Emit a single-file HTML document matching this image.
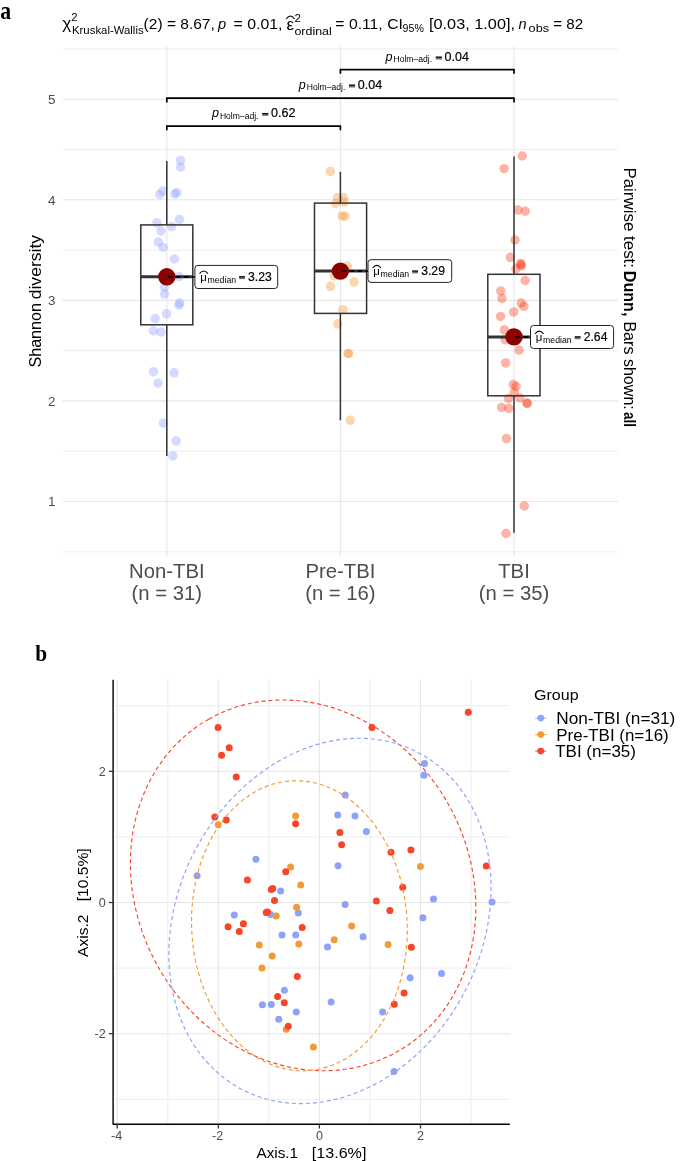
<!DOCTYPE html>
<html><head><meta charset="utf-8"><style>
html,body{margin:0;padding:0;background:#fff;}
svg{display:block;font-family:"Liberation Sans", sans-serif;will-change:transform;}
</style></head><body>
<svg width="685" height="1161" viewBox="0 0 685 1161">
<rect width="685" height="1161" fill="#fff"/>
<line x1="62.6" x2="618.1" y1="551.8" y2="551.8" stroke="#ECECEC" stroke-width="0.9"/>
<line x1="62.6" x2="618.1" y1="451.2" y2="451.2" stroke="#ECECEC" stroke-width="0.9"/>
<line x1="62.6" x2="618.1" y1="350.6" y2="350.6" stroke="#ECECEC" stroke-width="0.9"/>
<line x1="62.6" x2="618.1" y1="250.1" y2="250.1" stroke="#ECECEC" stroke-width="0.9"/>
<line x1="62.6" x2="618.1" y1="149.5" y2="149.5" stroke="#ECECEC" stroke-width="0.9"/>
<line x1="62.6" x2="618.1" y1="48.9" y2="48.9" stroke="#ECECEC" stroke-width="0.9"/>
<line x1="62.6" x2="618.1" y1="501.5" y2="501.5" stroke="#E6E6E6" stroke-width="1.1"/>
<line x1="62.6" x2="618.1" y1="400.9" y2="400.9" stroke="#E6E6E6" stroke-width="1.1"/>
<line x1="62.6" x2="618.1" y1="300.4" y2="300.4" stroke="#E6E6E6" stroke-width="1.1"/>
<line x1="62.6" x2="618.1" y1="199.8" y2="199.8" stroke="#E6E6E6" stroke-width="1.1"/>
<line x1="62.6" x2="618.1" y1="99.2" y2="99.2" stroke="#E6E6E6" stroke-width="1.1"/>
<line x1="166.8" x2="166.8" y1="46.4" y2="556.2" stroke="#E6E6E6" stroke-width="1.1"/>
<line x1="340.4" x2="340.4" y1="46.4" y2="556.2" stroke="#E6E6E6" stroke-width="1.1"/>
<line x1="514.0" x2="514.0" y1="46.4" y2="556.2" stroke="#E6E6E6" stroke-width="1.1"/>
<text x="55.4" y="506.3" font-size="13.4" fill="#4D4D4D" text-anchor="end">1</text>
<text x="55.4" y="405.7" font-size="13.4" fill="#4D4D4D" text-anchor="end">2</text>
<text x="55.4" y="305.2" font-size="13.4" fill="#4D4D4D" text-anchor="end">3</text>
<text x="55.4" y="204.6" font-size="13.4" fill="#4D4D4D" text-anchor="end">4</text>
<text x="55.4" y="104.0" font-size="13.4" fill="#4D4D4D" text-anchor="end">5</text>
<circle cx="180.5" cy="160.3" r="4.75" fill="#94A5FF" fill-opacity="0.4"/>
<circle cx="180.5" cy="167.2" r="4.75" fill="#94A5FF" fill-opacity="0.4"/>
<circle cx="162.7" cy="191.1" r="4.75" fill="#94A5FF" fill-opacity="0.4"/>
<circle cx="159.7" cy="194.4" r="4.75" fill="#94A5FF" fill-opacity="0.4"/>
<circle cx="176.9" cy="192.5" r="4.75" fill="#94A5FF" fill-opacity="0.4"/>
<circle cx="174.8" cy="194.1" r="4.75" fill="#94A5FF" fill-opacity="0.4"/>
<circle cx="179.4" cy="219.4" r="4.75" fill="#94A5FF" fill-opacity="0.4"/>
<circle cx="156.9" cy="222.8" r="4.75" fill="#94A5FF" fill-opacity="0.4"/>
<circle cx="171.7" cy="226.6" r="4.75" fill="#94A5FF" fill-opacity="0.4"/>
<circle cx="161.0" cy="231.1" r="4.75" fill="#94A5FF" fill-opacity="0.4"/>
<circle cx="158.3" cy="242.1" r="4.75" fill="#94A5FF" fill-opacity="0.4"/>
<circle cx="163.1" cy="247.2" r="4.75" fill="#94A5FF" fill-opacity="0.4"/>
<circle cx="174.4" cy="259.0" r="4.75" fill="#94A5FF" fill-opacity="0.4"/>
<circle cx="179.2" cy="276.6" r="4.75" fill="#94A5FF" fill-opacity="0.4"/>
<circle cx="164.5" cy="287.2" r="4.75" fill="#94A5FF" fill-opacity="0.4"/>
<circle cx="164.5" cy="294.1" r="4.75" fill="#94A5FF" fill-opacity="0.4"/>
<circle cx="179.7" cy="303.0" r="4.75" fill="#94A5FF" fill-opacity="0.4"/>
<circle cx="179.0" cy="305.2" r="4.75" fill="#94A5FF" fill-opacity="0.4"/>
<circle cx="166.6" cy="313.8" r="4.75" fill="#94A5FF" fill-opacity="0.4"/>
<circle cx="155.1" cy="318.6" r="4.75" fill="#94A5FF" fill-opacity="0.4"/>
<circle cx="153.4" cy="331.0" r="4.75" fill="#94A5FF" fill-opacity="0.4"/>
<circle cx="161.0" cy="332.0" r="4.75" fill="#94A5FF" fill-opacity="0.4"/>
<circle cx="153.4" cy="371.7" r="4.75" fill="#94A5FF" fill-opacity="0.4"/>
<circle cx="174.1" cy="372.8" r="4.75" fill="#94A5FF" fill-opacity="0.4"/>
<circle cx="158.0" cy="383.2" r="4.75" fill="#94A5FF" fill-opacity="0.4"/>
<circle cx="163.5" cy="423.2" r="4.75" fill="#94A5FF" fill-opacity="0.4"/>
<circle cx="176.2" cy="441.1" r="4.75" fill="#94A5FF" fill-opacity="0.4"/>
<circle cx="172.8" cy="455.9" r="4.75" fill="#94A5FF" fill-opacity="0.4"/>
<circle cx="330.3" cy="171.4" r="4.75" fill="#F7983A" fill-opacity="0.4"/>
<circle cx="337.5" cy="197.6" r="4.75" fill="#F7983A" fill-opacity="0.4"/>
<circle cx="343.4" cy="197.6" r="4.75" fill="#F7983A" fill-opacity="0.4"/>
<circle cx="335.6" cy="203.5" r="4.75" fill="#F7983A" fill-opacity="0.4"/>
<circle cx="344.1" cy="202.1" r="4.75" fill="#F7983A" fill-opacity="0.4"/>
<circle cx="342.1" cy="215.9" r="4.75" fill="#F7983A" fill-opacity="0.4"/>
<circle cx="345.2" cy="216.2" r="4.75" fill="#F7983A" fill-opacity="0.4"/>
<circle cx="347.2" cy="266.1" r="4.75" fill="#F7983A" fill-opacity="0.4"/>
<circle cx="334.2" cy="275.8" r="4.75" fill="#F7983A" fill-opacity="0.4"/>
<circle cx="354.1" cy="282.1" r="4.75" fill="#F7983A" fill-opacity="0.4"/>
<circle cx="330.6" cy="286.3" r="4.75" fill="#F7983A" fill-opacity="0.4"/>
<circle cx="342.8" cy="309.7" r="4.75" fill="#F7983A" fill-opacity="0.4"/>
<circle cx="337.9" cy="323.8" r="4.75" fill="#F7983A" fill-opacity="0.4"/>
<circle cx="348.3" cy="353.4" r="4.75" fill="#F7983A" fill-opacity="0.4"/>
<circle cx="348.3" cy="353.4" r="4.75" fill="#F7983A" fill-opacity="0.4"/>
<circle cx="350.3" cy="420.3" r="4.75" fill="#F7983A" fill-opacity="0.4"/>
<circle cx="522.3" cy="156.0" r="4.75" fill="#FA4320" fill-opacity="0.4"/>
<circle cx="504.1" cy="168.7" r="4.75" fill="#FA4320" fill-opacity="0.4"/>
<circle cx="517.9" cy="210.1" r="4.75" fill="#FA4320" fill-opacity="0.4"/>
<circle cx="525.3" cy="211.2" r="4.75" fill="#FA4320" fill-opacity="0.4"/>
<circle cx="515.0" cy="239.9" r="4.75" fill="#FA4320" fill-opacity="0.4"/>
<circle cx="510.4" cy="257.3" r="4.75" fill="#FA4320" fill-opacity="0.4"/>
<circle cx="520.6" cy="263.4" r="4.75" fill="#FA4320" fill-opacity="0.4"/>
<circle cx="521.2" cy="266.0" r="4.75" fill="#FA4320" fill-opacity="0.4"/>
<circle cx="515.9" cy="269.0" r="4.75" fill="#FA4320" fill-opacity="0.4"/>
<circle cx="521.0" cy="264.6" r="4.75" fill="#FA4320" fill-opacity="0.4"/>
<circle cx="525.2" cy="280.5" r="4.75" fill="#FA4320" fill-opacity="0.4"/>
<circle cx="500.8" cy="290.9" r="4.75" fill="#FA4320" fill-opacity="0.4"/>
<circle cx="502.0" cy="298.5" r="4.75" fill="#FA4320" fill-opacity="0.4"/>
<circle cx="521.2" cy="303.0" r="4.75" fill="#FA4320" fill-opacity="0.4"/>
<circle cx="523.9" cy="306.3" r="4.75" fill="#FA4320" fill-opacity="0.4"/>
<circle cx="513.7" cy="311.9" r="4.75" fill="#FA4320" fill-opacity="0.4"/>
<circle cx="500.6" cy="316.4" r="4.75" fill="#FA4320" fill-opacity="0.4"/>
<circle cx="504.4" cy="329.9" r="4.75" fill="#FA4320" fill-opacity="0.4"/>
<circle cx="505.2" cy="339.7" r="4.75" fill="#FA4320" fill-opacity="0.4"/>
<circle cx="519.1" cy="350.2" r="4.75" fill="#FA4320" fill-opacity="0.4"/>
<circle cx="505.7" cy="362.9" r="4.75" fill="#FA4320" fill-opacity="0.4"/>
<circle cx="513.3" cy="384.6" r="4.75" fill="#FA4320" fill-opacity="0.4"/>
<circle cx="516.1" cy="386.4" r="4.75" fill="#FA4320" fill-opacity="0.4"/>
<circle cx="514.3" cy="392.6" r="4.75" fill="#FA4320" fill-opacity="0.4"/>
<circle cx="508.5" cy="398.4" r="4.75" fill="#FA4320" fill-opacity="0.4"/>
<circle cx="519.8" cy="397.8" r="4.75" fill="#FA4320" fill-opacity="0.4"/>
<circle cx="527.1" cy="402.9" r="4.75" fill="#FA4320" fill-opacity="0.4"/>
<circle cx="527.1" cy="403.5" r="4.75" fill="#FA4320" fill-opacity="0.4"/>
<circle cx="501.6" cy="407.5" r="4.75" fill="#FA4320" fill-opacity="0.4"/>
<circle cx="508.8" cy="408.4" r="4.75" fill="#FA4320" fill-opacity="0.4"/>
<circle cx="506.4" cy="438.6" r="4.75" fill="#FA4320" fill-opacity="0.4"/>
<circle cx="524.3" cy="506.0" r="4.75" fill="#FA4320" fill-opacity="0.4"/>
<circle cx="506.0" cy="533.4" r="4.75" fill="#FA4320" fill-opacity="0.4"/>
<line x1="166.8" x2="166.8" y1="161.0" y2="224.9" stroke="#333" stroke-width="1.5"/>
<line x1="166.8" x2="166.8" y1="324.8" y2="455.9" stroke="#333" stroke-width="1.5"/>
<rect x="140.8" y="224.9" width="52.0" height="99.9" fill="none" stroke="#333" stroke-width="1.5"/>
<line x1="140.8" x2="192.8" y1="276.8" y2="276.8" stroke="#333" stroke-width="3"/>
<line x1="340.4" x2="340.4" y1="171.8" y2="203.1" stroke="#333" stroke-width="1.5"/>
<line x1="340.4" x2="340.4" y1="313.4" y2="420.3" stroke="#333" stroke-width="1.5"/>
<rect x="314.5" y="203.1" width="52.10000000000002" height="110.29999999999998" fill="none" stroke="#333" stroke-width="1.5"/>
<line x1="314.5" x2="366.6" y1="271.1" y2="271.1" stroke="#333" stroke-width="3"/>
<line x1="514.0" x2="514.0" y1="156.4" y2="274.3" stroke="#333" stroke-width="1.5"/>
<line x1="514.0" x2="514.0" y1="395.8" y2="532.8" stroke="#333" stroke-width="1.5"/>
<rect x="487.8" y="274.3" width="52.19999999999999" height="121.5" fill="none" stroke="#333" stroke-width="1.5"/>
<line x1="487.8" x2="540.0" y1="336.9" y2="336.9" stroke="#333" stroke-width="3"/>
<circle cx="166.8" cy="276.8" r="8.7" fill="#8B0000"/>
<line x1="168.1" x2="194.9" y1="276.8" y2="276.8" stroke="#000" stroke-width="1.7" stroke-dasharray="4.5 3.5"/>
<circle cx="340.4" cy="271.1" r="8.7" fill="#8B0000"/>
<line x1="341.7" x2="368.0" y1="271.1" y2="271.1" stroke="#000" stroke-width="1.7" stroke-dasharray="4.5 3.5"/>
<circle cx="514.0" cy="336.9" r="8.7" fill="#8B0000"/>
<line x1="515.3" x2="530.5" y1="336.9" y2="336.9" stroke="#000" stroke-width="1.7" stroke-dasharray="4.5 3.5"/>
<rect x="194.9" y="265.4" width="82.8" height="23.1" rx="3" fill="#fff" stroke="#222" stroke-width="1"/>
<text x="200.2" y="280.7" font-size="11.6" fill="#000" textLength="6.6" lengthAdjust="spacingAndGlyphs">μ</text>
<path d="M199.5,273.7 Q203.7,268.4 207.9,273.7" fill="none" stroke="#000" stroke-width="1.1"/>
<text x="207.5" y="282.8" font-size="8.5" fill="#000" textLength="28.6" lengthAdjust="spacingAndGlyphs">median</text>
<rect x="239.1" y="276.2" width="5.8" height="2.9" fill="#707070"/><rect x="239.1" y="276.2" width="5.8" height="1.2" fill="#111"/>
<text x="248.1" y="281.0" font-size="12.2" fill="#000" stroke="#000" stroke-width="0.2">3.23</text>
<rect x="368.0" y="259.7" width="83.7" height="22.7" rx="3" fill="#fff" stroke="#222" stroke-width="1"/>
<text x="373.3" y="275.0" font-size="11.6" fill="#000" textLength="6.6" lengthAdjust="spacingAndGlyphs">μ</text>
<path d="M372.6,268.0 Q376.8,262.7 381.0,268.0" fill="none" stroke="#000" stroke-width="1.1"/>
<text x="380.6" y="277.1" font-size="8.5" fill="#000" textLength="28.6" lengthAdjust="spacingAndGlyphs">median</text>
<rect x="412.2" y="270.5" width="5.8" height="2.9" fill="#707070"/><rect x="412.2" y="270.5" width="5.8" height="1.2" fill="#111"/>
<text x="421.2" y="275.3" font-size="12.2" fill="#000" stroke="#000" stroke-width="0.2">3.29</text>
<rect x="530.5" y="325.5" width="83.1" height="23.0" rx="3" fill="#fff" stroke="#222" stroke-width="1"/>
<text x="535.8" y="340.8" font-size="11.6" fill="#000" textLength="6.6" lengthAdjust="spacingAndGlyphs">μ</text>
<path d="M535.1,333.8 Q539.3,328.5 543.5,333.8" fill="none" stroke="#000" stroke-width="1.1"/>
<text x="543.1" y="342.9" font-size="8.5" fill="#000" textLength="28.6" lengthAdjust="spacingAndGlyphs">median</text>
<rect x="574.7" y="336.3" width="5.8" height="2.9" fill="#707070"/><rect x="574.7" y="336.3" width="5.8" height="1.2" fill="#111"/>
<text x="583.7" y="341.1" font-size="12.2" fill="#000" stroke="#000" stroke-width="0.2">2.64</text>
<path d="M340.4,73.8 L340.4,69.6 L514.0,69.6 L514.0,73.8" fill="none" stroke="#000" stroke-width="1.7"/>
<text x="385.6" y="60.6" font-size="12.6" font-style="italic" fill="#000">p</text>
<text x="393.5" y="62.2" font-size="8.3" fill="#000" textLength="38.6" lengthAdjust="spacingAndGlyphs">Holm–adj.</text>
<rect x="435.8" y="56.6" width="6.1" height="2.9" fill="#707070"/><rect x="435.8" y="56.6" width="6.1" height="1.2" fill="#111"/>
<text x="444.6" y="60.6" font-size="12.5" fill="#000" stroke="#000" stroke-width="0.2">0.04</text>
<path d="M166.8,102.4 L166.8,98.2 L514.0,98.2 L514.0,102.4" fill="none" stroke="#000" stroke-width="1.7"/>
<text x="298.8" y="88.6" font-size="12.6" font-style="italic" fill="#000">p</text>
<text x="306.7" y="90.2" font-size="8.3" fill="#000" textLength="38.6" lengthAdjust="spacingAndGlyphs">Holm–adj.</text>
<rect x="349.0" y="84.6" width="6.1" height="2.9" fill="#707070"/><rect x="349.0" y="84.6" width="6.1" height="1.2" fill="#111"/>
<text x="357.8" y="88.6" font-size="12.5" fill="#000" stroke="#000" stroke-width="0.2">0.04</text>
<path d="M166.8,130.29999999999998 L166.8,126.1 L340.4,126.1 L340.4,130.29999999999998" fill="none" stroke="#000" stroke-width="1.7"/>
<text x="212.0" y="117.0" font-size="12.6" font-style="italic" fill="#000">p</text>
<text x="219.9" y="118.6" font-size="8.3" fill="#000" textLength="38.6" lengthAdjust="spacingAndGlyphs">Holm–adj.</text>
<rect x="262.2" y="113.0" width="6.1" height="2.9" fill="#707070"/><rect x="262.2" y="113.0" width="6.1" height="1.2" fill="#111"/>
<text x="271.0" y="117.0" font-size="12.5" fill="#000" stroke="#000" stroke-width="0.2">0.62</text>
<text x="166.8" y="577.9" font-size="20.3" fill="#4D4D4D" text-anchor="middle">Non-TBI</text>
<text x="166.8" y="599.6" font-size="20.3" fill="#4D4D4D" text-anchor="middle">(n = 31)</text>
<text x="340.4" y="577.9" font-size="20.3" fill="#4D4D4D" text-anchor="middle">Pre-TBI</text>
<text x="340.4" y="599.6" font-size="20.3" fill="#4D4D4D" text-anchor="middle">(n = 16)</text>
<text x="514.0" y="577.9" font-size="20.3" fill="#4D4D4D" text-anchor="middle">TBI</text>
<text x="514.0" y="599.6" font-size="20.3" fill="#4D4D4D" text-anchor="middle">(n = 35)</text>
<text transform="translate(41.2,367.6) rotate(-90)" font-size="17" fill="#000" textLength="64.6" lengthAdjust="spacingAndGlyphs">Shannon</text>
<text transform="translate(41.2,299.3) rotate(-90)" font-size="17" fill="#000" textLength="64.4" lengthAdjust="spacingAndGlyphs">diversity</text>
<text transform="translate(624.3,167.4) rotate(90)" font-size="15.6" fill="#000" textLength="100.6" lengthAdjust="spacingAndGlyphs">Pairwise test:</text>
<text transform="translate(624.3,270.8) rotate(90)" font-size="15.6" font-weight="bold" fill="#000" textLength="45.6" lengthAdjust="spacingAndGlyphs">Dunn,</text>
<text transform="translate(624.3,321.4) rotate(90)" font-size="15.6" fill="#000" textLength="88.4" lengthAdjust="spacingAndGlyphs">Bars shown:</text>
<text transform="translate(624.3,412.0) rotate(90)" font-size="15.6" font-weight="bold" fill="#000" textLength="15.0" lengthAdjust="spacingAndGlyphs">all</text>
<text x="62.2" y="29.4" font-size="15.6" fill="#000" textLength="9.0" lengthAdjust="spacingAndGlyphs">χ</text>
<text x="71.3" y="21.3" font-size="11.3" fill="#000" >2</text>
<text x="72.0" y="34.2" font-size="11.2" fill="#000" textLength="71.6" lengthAdjust="spacingAndGlyphs">Kruskal-Wallis</text>
<text x="143.6" y="29.2" font-size="14.6" fill="#000" textLength="71.2" lengthAdjust="spacingAndGlyphs">(2) = 8.67,</text>
<text x="218.0" y="29.2" font-size="14.6" fill="#000" font-style="italic">p</text>
<text x="233.6" y="29.2" font-size="14.6" fill="#000" textLength="48.8" lengthAdjust="spacingAndGlyphs">= 0.01,</text>
<text x="286.6" y="29.5" font-size="16" fill="#000" textLength="7.6" lengthAdjust="spacingAndGlyphs">ε</text>
<path d="M286.2,19.0 Q290.4,13.0 294.6,19.0" fill="none" stroke="#000" stroke-width="1.1"/>
<text x="294.6" y="21.5" font-size="11.6" fill="#000" >2</text>
<text x="294.4" y="34.5" font-size="11.6" fill="#000" textLength="37.4" lengthAdjust="spacingAndGlyphs">ordinal</text>
<text x="335.3" y="29.2" font-size="14.6" fill="#000" textLength="67.6" lengthAdjust="spacingAndGlyphs">= 0.11, CI</text>
<text x="402.6" y="32.4" font-size="10.6" fill="#000" textLength="21.2" lengthAdjust="spacingAndGlyphs">95%</text>
<text x="429.0" y="29.2" font-size="14.6" fill="#000" textLength="86.0" lengthAdjust="spacingAndGlyphs">[0.03, 1.00],</text>
<text x="518.6" y="29.2" font-size="14.6" fill="#000" font-style="italic">n</text>
<text x="528.6" y="32.4" font-size="11.3" fill="#000" textLength="20.4" lengthAdjust="spacingAndGlyphs">obs</text>
<text x="553.2" y="29.2" font-size="14.6" fill="#000" textLength="29.9" lengthAdjust="spacingAndGlyphs">= 82</text>
<text transform="translate(0.3,19) scale(0.87,1.0)" font-size="25" font-weight="bold" style="font-family:'Liberation Serif',serif" fill="#000">a</text>
<line x1="167.8" x2="167.8" y1="679.7" y2="1124.1" stroke="#ECECEC" stroke-width="0.9"/>
<line x1="113.3" x2="509.8" y1="1099.3" y2="1099.3" stroke="#ECECEC" stroke-width="0.9"/>
<line x1="268.8" x2="268.8" y1="679.7" y2="1124.1" stroke="#ECECEC" stroke-width="0.9"/>
<line x1="113.3" x2="509.8" y1="968.1" y2="968.1" stroke="#ECECEC" stroke-width="0.9"/>
<line x1="369.9" x2="369.9" y1="679.7" y2="1124.1" stroke="#ECECEC" stroke-width="0.9"/>
<line x1="113.3" x2="509.8" y1="836.9" y2="836.9" stroke="#ECECEC" stroke-width="0.9"/>
<line x1="471.0" x2="471.0" y1="679.7" y2="1124.1" stroke="#ECECEC" stroke-width="0.9"/>
<line x1="113.3" x2="509.8" y1="705.7" y2="705.7" stroke="#ECECEC" stroke-width="0.9"/>
<line x1="117.2" x2="117.2" y1="679.7" y2="1124.1" stroke="#E6E6E6" stroke-width="1.1"/>
<line x1="218.3" x2="218.3" y1="679.7" y2="1124.1" stroke="#E6E6E6" stroke-width="1.1"/>
<line x1="319.4" x2="319.4" y1="679.7" y2="1124.1" stroke="#E6E6E6" stroke-width="1.1"/>
<line x1="420.5" x2="420.5" y1="679.7" y2="1124.1" stroke="#E6E6E6" stroke-width="1.1"/>
<line x1="113.3" x2="509.8" y1="1033.7" y2="1033.7" stroke="#E6E6E6" stroke-width="1.1"/>
<line x1="113.3" x2="509.8" y1="902.5" y2="902.5" stroke="#E6E6E6" stroke-width="1.1"/>
<line x1="113.3" x2="509.8" y1="771.3" y2="771.3" stroke="#E6E6E6" stroke-width="1.1"/>
<circle cx="424.5" cy="763.4" r="3.5" fill="#8DA2F8"/>
<circle cx="423.9" cy="775.3" r="3.5" fill="#8DA2F8"/>
<circle cx="345.3" cy="794.9" r="3.5" fill="#8DA2F8"/>
<circle cx="337.7" cy="815.0" r="3.5" fill="#8DA2F8"/>
<circle cx="355.0" cy="815.9" r="3.5" fill="#8DA2F8"/>
<circle cx="366.4" cy="831.4" r="3.5" fill="#8DA2F8"/>
<circle cx="255.9" cy="859.3" r="3.5" fill="#8DA2F8"/>
<circle cx="338.0" cy="865.7" r="3.5" fill="#8DA2F8"/>
<circle cx="197.1" cy="875.8" r="3.5" fill="#8DA2F8"/>
<circle cx="280.6" cy="891.0" r="3.5" fill="#8DA2F8"/>
<circle cx="345.1" cy="904.6" r="3.5" fill="#8DA2F8"/>
<circle cx="433.5" cy="899.1" r="3.5" fill="#8DA2F8"/>
<circle cx="492.0" cy="902.0" r="3.5" fill="#8DA2F8"/>
<circle cx="298.3" cy="913.0" r="3.5" fill="#8DA2F8"/>
<circle cx="270.6" cy="914.4" r="3.5" fill="#8DA2F8"/>
<circle cx="234.3" cy="914.9" r="3.5" fill="#8DA2F8"/>
<circle cx="422.9" cy="917.7" r="3.5" fill="#8DA2F8"/>
<circle cx="282.0" cy="935.1" r="3.5" fill="#8DA2F8"/>
<circle cx="295.7" cy="935.0" r="3.5" fill="#8DA2F8"/>
<circle cx="363.1" cy="936.7" r="3.5" fill="#8DA2F8"/>
<circle cx="327.5" cy="946.9" r="3.5" fill="#8DA2F8"/>
<circle cx="441.5" cy="973.5" r="3.5" fill="#8DA2F8"/>
<circle cx="410.1" cy="977.8" r="3.5" fill="#8DA2F8"/>
<circle cx="284.4" cy="990.3" r="3.5" fill="#8DA2F8"/>
<circle cx="262.4" cy="1004.8" r="3.5" fill="#8DA2F8"/>
<circle cx="271.2" cy="1004.4" r="3.5" fill="#8DA2F8"/>
<circle cx="331.1" cy="1002.1" r="3.5" fill="#8DA2F8"/>
<circle cx="296.3" cy="1011.9" r="3.5" fill="#8DA2F8"/>
<circle cx="382.6" cy="1012.1" r="3.5" fill="#8DA2F8"/>
<circle cx="278.8" cy="1019.2" r="3.5" fill="#8DA2F8"/>
<circle cx="394.0" cy="1071.5" r="3.5" fill="#8DA2F8"/>
<circle cx="218.3" cy="824.7" r="3.5" fill="#F29B36"/>
<circle cx="295.6" cy="816.1" r="3.5" fill="#F29B36"/>
<circle cx="290.6" cy="866.9" r="3.5" fill="#F29B36"/>
<circle cx="420.4" cy="866.5" r="3.5" fill="#F29B36"/>
<circle cx="300.7" cy="885.1" r="3.5" fill="#F29B36"/>
<circle cx="296.6" cy="907.2" r="3.5" fill="#F29B36"/>
<circle cx="276.2" cy="916.0" r="3.5" fill="#F29B36"/>
<circle cx="351.6" cy="926.1" r="3.5" fill="#F29B36"/>
<circle cx="334.2" cy="939.7" r="3.5" fill="#F29B36"/>
<circle cx="298.8" cy="943.9" r="3.5" fill="#F29B36"/>
<circle cx="259.3" cy="944.9" r="3.5" fill="#F29B36"/>
<circle cx="388.1" cy="944.5" r="3.5" fill="#F29B36"/>
<circle cx="272.2" cy="956.1" r="3.5" fill="#F29B36"/>
<circle cx="262.0" cy="968.1" r="3.5" fill="#F29B36"/>
<circle cx="286.2" cy="1029.3" r="3.5" fill="#F29B36"/>
<circle cx="313.4" cy="1047.0" r="3.5" fill="#F29B36"/>
<circle cx="468.3" cy="712.2" r="3.5" fill="#F7452A"/>
<circle cx="295.6" cy="823.8" r="3.5" fill="#F7452A"/>
<circle cx="218.1" cy="727.6" r="3.5" fill="#F7452A"/>
<circle cx="372.0" cy="727.5" r="3.5" fill="#F7452A"/>
<circle cx="229.2" cy="747.7" r="3.5" fill="#F7452A"/>
<circle cx="221.6" cy="755.3" r="3.5" fill="#F7452A"/>
<circle cx="236.2" cy="776.9" r="3.5" fill="#F7452A"/>
<circle cx="214.8" cy="817.1" r="3.5" fill="#F7452A"/>
<circle cx="226.2" cy="819.9" r="3.5" fill="#F7452A"/>
<circle cx="339.9" cy="832.6" r="3.5" fill="#F7452A"/>
<circle cx="341.6" cy="844.7" r="3.5" fill="#F7452A"/>
<circle cx="410.9" cy="849.9" r="3.5" fill="#F7452A"/>
<circle cx="391.0" cy="852.3" r="3.5" fill="#F7452A"/>
<circle cx="486.3" cy="865.9" r="3.5" fill="#F7452A"/>
<circle cx="285.7" cy="871.7" r="3.5" fill="#F7452A"/>
<circle cx="247.4" cy="880.1" r="3.5" fill="#F7452A"/>
<circle cx="402.7" cy="887.2" r="3.5" fill="#F7452A"/>
<circle cx="271.3" cy="889.4" r="3.5" fill="#F7452A"/>
<circle cx="272.7" cy="888.5" r="3.5" fill="#F7452A"/>
<circle cx="274.5" cy="900.5" r="3.5" fill="#F7452A"/>
<circle cx="376.4" cy="900.9" r="3.5" fill="#F7452A"/>
<circle cx="389.9" cy="910.6" r="3.5" fill="#F7452A"/>
<circle cx="266.2" cy="912.5" r="3.5" fill="#F7452A"/>
<circle cx="267.5" cy="912.0" r="3.5" fill="#F7452A"/>
<circle cx="243.4" cy="923.7" r="3.5" fill="#F7452A"/>
<circle cx="228.1" cy="926.7" r="3.5" fill="#F7452A"/>
<circle cx="239.3" cy="931.6" r="3.5" fill="#F7452A"/>
<circle cx="302.2" cy="927.5" r="3.5" fill="#F7452A"/>
<circle cx="411.4" cy="947.3" r="3.5" fill="#F7452A"/>
<circle cx="297.3" cy="976.5" r="3.5" fill="#F7452A"/>
<circle cx="277.6" cy="996.5" r="3.5" fill="#F7452A"/>
<circle cx="284.3" cy="1002.8" r="3.5" fill="#F7452A"/>
<circle cx="404.1" cy="992.9" r="3.5" fill="#F7452A"/>
<circle cx="394.3" cy="1004.2" r="3.5" fill="#F7452A"/>
<circle cx="288.3" cy="1026.2" r="3.5" fill="#F7452A"/>
<ellipse cx="303.12" cy="885.35" rx="191.13" ry="166.35" transform="rotate(-119.59 303.12 885.35)" fill="none" stroke="#F7452A" stroke-width="1.15" stroke-dasharray="4.1 2.9"/>
<ellipse cx="329.97" cy="920.94" rx="190.09" ry="152.23" transform="rotate(-62.46 329.97 920.94)" fill="none" stroke="#8DA2F8" stroke-width="1.15" stroke-dasharray="4.1 2.9"/>
<ellipse cx="299.41" cy="925.78" rx="145.11" ry="107.75" transform="rotate(-92.89 299.41 925.78)" fill="none" stroke="#F29B36" stroke-width="1.15" stroke-dasharray="4.1 2.9"/>
<path d="M113.1,679.7 L113.1,1124.3 L509.8,1124.3" fill="none" stroke="#000" stroke-width="1.4" stroke-linejoin="round"/>
<line x1="117.2" x2="117.2" y1="1124.3" y2="1128.5" stroke="#333" stroke-width="1.3"/>
<text x="116.6" y="1140.3" font-size="12.6" fill="#4D4D4D" text-anchor="middle">-4</text>
<line x1="218.3" x2="218.3" y1="1124.3" y2="1128.5" stroke="#333" stroke-width="1.3"/>
<text x="217.7" y="1140.3" font-size="12.6" fill="#4D4D4D" text-anchor="middle">-2</text>
<line x1="319.4" x2="319.4" y1="1124.3" y2="1128.5" stroke="#333" stroke-width="1.3"/>
<text x="319.4" y="1140.3" font-size="12.6" fill="#4D4D4D" text-anchor="middle">0</text>
<line x1="420.5" x2="420.5" y1="1124.3" y2="1128.5" stroke="#333" stroke-width="1.3"/>
<text x="420.5" y="1140.3" font-size="12.6" fill="#4D4D4D" text-anchor="middle">2</text>
<line x1="108.9" x2="113.1" y1="1033.7" y2="1033.7" stroke="#333" stroke-width="1.3"/>
<text x="105.8" y="1038.2" font-size="12.6" fill="#4D4D4D" text-anchor="end">-2</text>
<line x1="108.9" x2="113.1" y1="902.5" y2="902.5" stroke="#333" stroke-width="1.3"/>
<text x="105.8" y="907.0" font-size="12.6" fill="#4D4D4D" text-anchor="end">0</text>
<line x1="108.9" x2="113.1" y1="771.3" y2="771.3" stroke="#333" stroke-width="1.3"/>
<text x="105.8" y="775.8" font-size="12.6" fill="#4D4D4D" text-anchor="end">2</text>
<text x="256.5" y="1158.4" font-size="14" fill="#000" textLength="41.6" lengthAdjust="spacingAndGlyphs">Axis.1</text>
<text x="311.8" y="1158.4" font-size="14" fill="#000" textLength="54.6" lengthAdjust="spacingAndGlyphs">[13.6%]</text>
<text transform="translate(87.6,956.9) rotate(-90)" font-size="14" fill="#000" textLength="42.4" lengthAdjust="spacingAndGlyphs">Axis.2</text>
<text transform="translate(87.6,901.3) rotate(-90)" font-size="14" fill="#000" textLength="53.0" lengthAdjust="spacingAndGlyphs">[10.5%]</text>
<text x="534" y="700" font-size="14" fill="#000" textLength="44.6" lengthAdjust="spacingAndGlyphs">Group</text>
<line x1="535.3" x2="546.2" y1="718.1" y2="718.1" stroke="#8DA2F8" stroke-width="1"/>
<circle cx="540.8" cy="718.1" r="3.3" fill="#8DA2F8"/>
<text x="556.3" y="724.0" font-size="16" fill="#000" textLength="119.0" lengthAdjust="spacingAndGlyphs">Non-TBI (n=31)</text>
<line x1="535.3" x2="546.2" y1="734.6" y2="734.6" stroke="#F29B36" stroke-width="1"/>
<circle cx="540.8" cy="734.6" r="3.3" fill="#F29B36"/>
<text x="556.3" y="740.5" font-size="16" fill="#000" textLength="112.4" lengthAdjust="spacingAndGlyphs">Pre-TBI (n=16)</text>
<line x1="535.3" x2="546.2" y1="751.1" y2="751.1" stroke="#F7452A" stroke-width="1"/>
<circle cx="540.8" cy="751.1" r="3.3" fill="#F7452A"/>
<text x="555.2" y="757.0" font-size="16" fill="#000" textLength="80.8" lengthAdjust="spacingAndGlyphs">TBI (n=35)</text>
<text transform="translate(35.2,661) scale(0.93,1)" font-size="23" font-weight="bold" style="font-family:'Liberation Serif',serif" fill="#000">b</text>
</svg>
</body></html>
